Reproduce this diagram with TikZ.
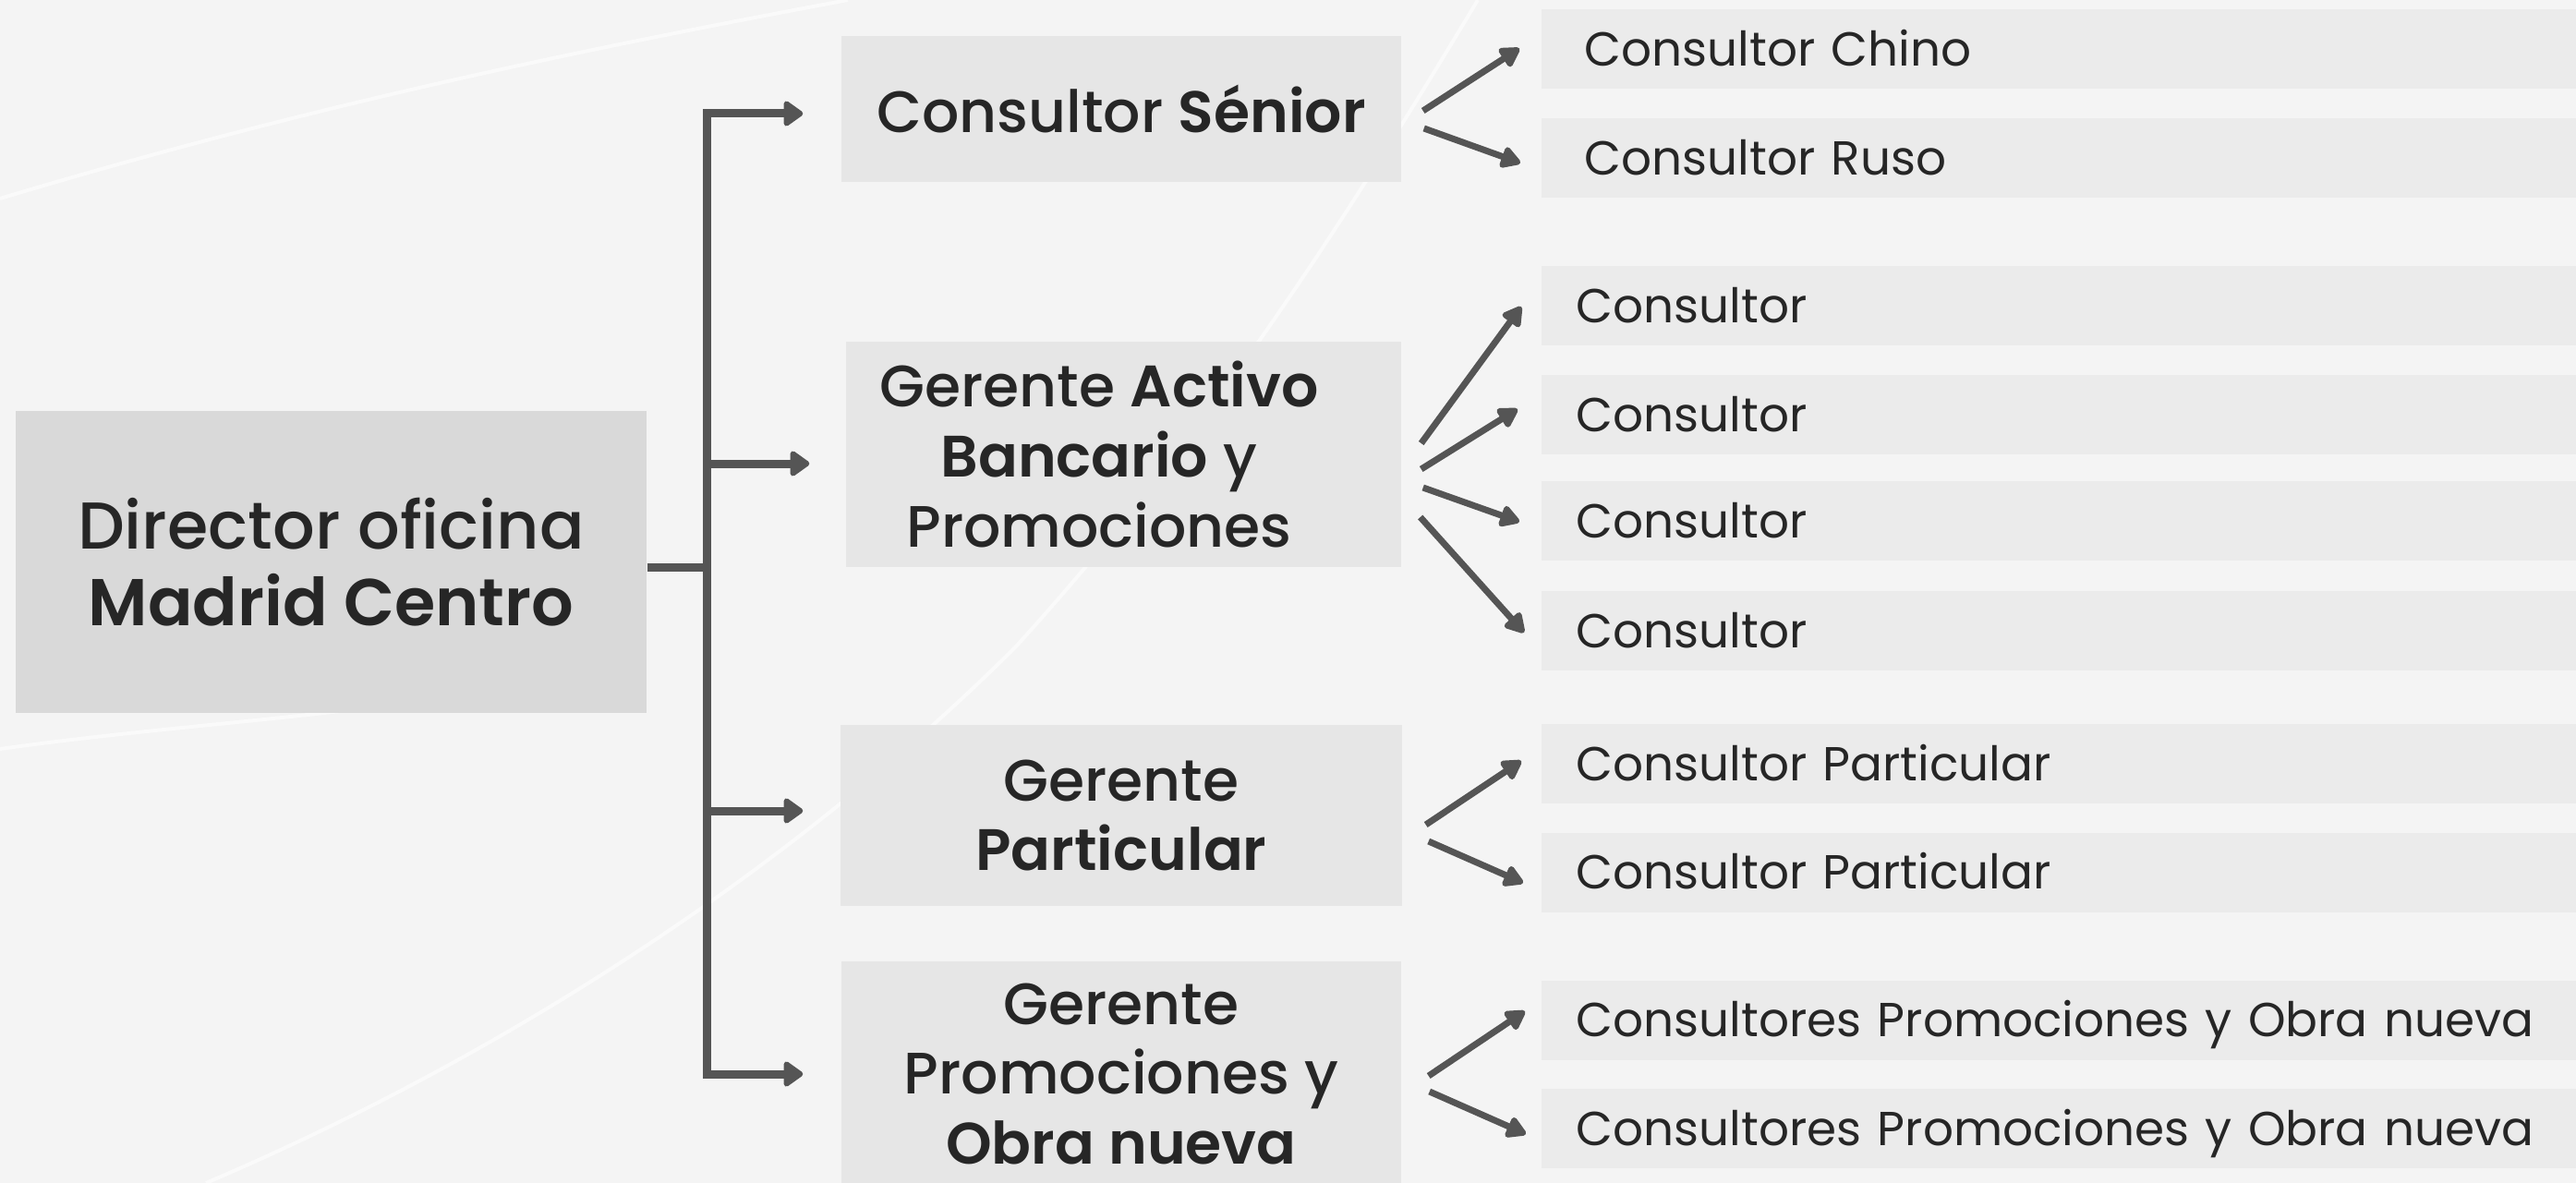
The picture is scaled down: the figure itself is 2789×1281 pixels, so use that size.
\documentclass[tikz,border=0pt]{standalone}
\usepackage{fontspec}
\setmainfont{Poppins}
\newfontfamily\medfont{Poppins Medium}[BoldFont=Poppins SemiBold]
\usetikzlibrary{positioning,calc,arrows.meta}

\definecolor{bgcol}{HTML}{F4F4F4}
\definecolor{streak}{HTML}{FAFAFA}
\definecolor{dircol}{HTML}{D9D9D9}
\definecolor{midcol}{HTML}{E6E6E6}
\definecolor{subcol}{HTML}{EBEBEB}
\definecolor{txtcol}{HTML}{262626}
\definecolor{arrcol}{HTML}{555555}

\tikzset{
  dirbox/.style={fill=dircol, text=txtcol, align=center, inner sep=0pt,
    minimum width=68.3mm, minimum height=32.7mm,
    font=\medfont\fontsize{20.4}{23.6}\selectfont},
  midbox/.style={fill=midcol, text=txtcol, align=center, inner sep=0pt,
    minimum width=60.6mm, font=\medfont\fontsize{18}{21.6}\selectfont},
  midtext/.style={text=txtcol, align=center, inner sep=0pt,
    font=\medfont\fontsize{18}{21.6}\selectfont},
  subbox/.style={fill=subcol, text=txtcol, anchor=west, align=left,
    minimum height=8.6mm, inner ysep=0pt, inner xsep=3.8mm, text width=118mm,
    text height=10.3pt, text depth=0pt, font=\fontsize{14.7}{18}\selectfont},
  trunk/.style={draw=arrcol, line width=0.9mm},
  trunktip/.style={trunk, -{Triangle[round,length=2.3mm,width=3.1mm]}},
  twig/.style={draw=arrcol, line width=0.7mm, -{Triangle[round,length=2.4mm,width=2.6mm]}},
}

\begin{document}
\begin{tikzpicture}[x=0.1mm, y=-0.1mm]
  \useasboundingbox (0,0) rectangle (2789,1281);
  \clip (0,0) rectangle (2789,1281);
  % Background
  \fill[bgcol] (0,0) rectangle (2789,1281);
  \draw[streak, line width=0.4mm] (0,215) .. controls (350,110) and (650,50) .. (918,0);
  \draw[streak, line width=0.4mm] (0,811) .. controls (150,790) and (300,780) .. (415,764);
  \draw[streak, line width=0.4mm] (223,1281) .. controls (600,1120) and (900,900) .. (1100,700)
    .. controls (1300,480) and (1450,250) .. (1600,0);

  % Director
  \node[dirbox] (director) at (358.5,608.5) {Director oficina\\\textbf{Madrid Centro}};

  % Managers
  \node[midbox, minimum height=15.8mm] (senior) at (1214,118) {Consultor \textbf{Sénior}};
  \node[midbox, minimum width=60.1mm, minimum height=24.4mm] (activo) at (1216.5,492) {};
  \node[midtext] (activotext) at (1190,492) {Gerente \textbf{Activo}\\\textbf{Bancario} y\\Promociones};
  \node[midbox, minimum width=60.8mm, minimum height=19.6mm] (particular) at (1214,883) {Gerente\\\textbf{Particular}};
  \node[midbox, minimum height=24.4mm] (promo) at (1214,1163) {Gerente\\Promociones y\\\textbf{Obra nueva}};

  % Consultants
  \node[subbox, inner xsep=4.7mm] (chino) at (1668,53.5) {Consultor Chino};
  \node[subbox, inner xsep=4.7mm] (ruso) at (1668,171.5) {Consultor Ruso};
  \foreach \i/\y in {1/331,2/449,3/564,4/683}
    \node[subbox] (cons\i) at (1668,\y) {Consultor};
  \node[subbox] (part1) at (1668,827) {Consultor Particular};
  \node[subbox] (part2) at (1668,944.5) {Consultor Particular};
  \node[subbox] (obra1) at (1668,1104.5) {Consultores Promociones y Obra nueva};
  \node[subbox] (obra2) at (1668,1222) {Consultores Promociones y Obra nueva};

  % Trunk
  \coordinate (spine) at (765,0);
  \coordinate (joint) at ($(director.east)+(0,6)$);
  \coordinate (b1) at ($(senior.west)+(-41,5)$);
  \coordinate (b2) at ($(activo.west)+(-39,10)$);
  \coordinate (b3) at ($(particular.west)+(-40,-5)$);
  \coordinate (b4) at ($(promo.west)+(-41,0)$);
  \draw[trunk] (joint) -- (joint -| spine);
  \draw[trunk, {Triangle[round,length=2.3mm,width=3.1mm]}-{Triangle[round,length=2.3mm,width=3.1mm]}]
    (b1) -- (b1 -| spine) -- (b4 -| spine) -- (b4);
  \draw[trunktip] (b2 -| spine) -- (b2);
  \draw[trunktip] (b3 -| spine) -- (b3);

  % Twigs
  \draw[twig] ($(senior.east)+(23,2)$) -- ($(chino.west)+(-23,-1)$);
  \draw[twig] ($(senior.east)+(24,21)$) -- ($(ruso.west)+(-22,5)$);
  \draw[twig] ($(activo.east)+(21,-12)$) -- ($(cons1.west)+(-21,1)$);
  \draw[twig] ($(activo.east)+(21,16)$) -- ($(cons2.west)+(-25,-6)$);
  \draw[twig] ($(activo.east)+(23,36)$) -- ($(cons3.west)+(-23,1)$);
  \draw[twig] ($(activo.east)+(20,68)$) -- ($(cons4.west)+(-18,2)$);
  \draw[twig] ($(particular.east)+(25,10)$) -- ($(part1.west)+(-21,-3)$);
  \draw[twig] ($(particular.east)+(28,28)$) -- ($(part2.west)+(-19,11.5)$);
  \draw[twig] ($(promo.east)+(29,2)$) -- ($(obra1.west)+(-17,-9.5)$);
  \draw[twig] ($(promo.east)+(30,19)$) -- ($(obra2.west)+(-16,6)$);
\end{tikzpicture}
\end{document}
